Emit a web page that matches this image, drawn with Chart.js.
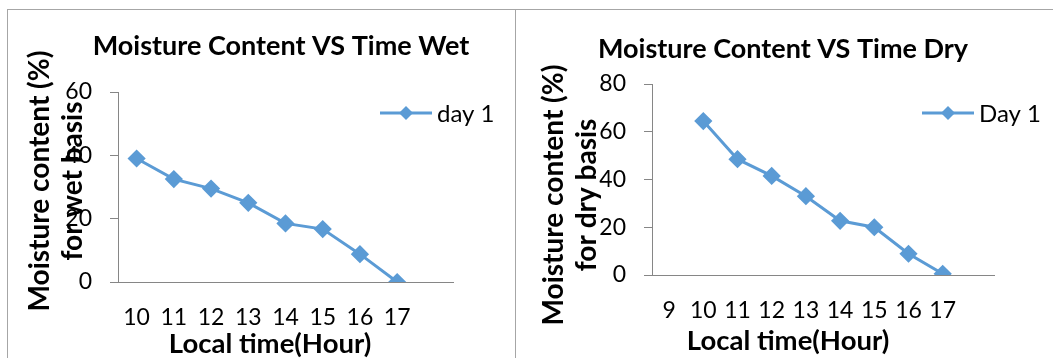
<!DOCTYPE html>
<html>
<head>
<meta charset="utf-8">
<script src="https://cdn.jsdelivr.net/npm/chart.js@4/dist/chart.umd.min.js"></script>
<style>
  body { margin: 0; background: #fff; width: 1053px; height: 358px; overflow: hidden; position: relative; }
  .panel { position: absolute; top: 9px; height: 360px; border-top: 1px solid #a6a6a6; }
  #wetPanel { left: 7px; width: 507px; border-left: 1px solid #a6a6a6; border-right: 1px solid #a6a6a6; }
  #dryPanel { left: 515px; width: 540px; }
  canvas { position: absolute; left: 0; top: 0; }
</style>
</head>
<body>
<div class="panel" id="wetPanel"><canvas id="wetChart" width="507" height="348"></canvas></div>
<div class="panel" id="dryPanel"><canvas id="dryChart" width="538" height="348"></canvas></div>
<script>
// Data
const wetHours = ["10", "11", "12", "13", "14", "15", "16", "17", ""];
const wetValues = [39, 32.5, 29.5, 25, 18.5, 16.7, 8.8, 0];
const wetTicks = [0, 20, 40, 60];

const dryHours = ["9", "10", "11", "12", "13", "14", "15", "16", "17", ""];
const dryValues = [null, 64.5, 48.5, 41.5, 33, 22.7, 20, 8.9, 0.5];
const dryTicks = [0, 20, 40, 60, 80];

const xTitle = "Local time(Hour)";

const blue = "#5b9bd5";
const axisGrey = "#868686";
const fontFamily = "Lato, 'Open Sans', sans-serif";

// Excel places the titles off-centre from the plot, so they are drawn here
const excelTitles = {
    id: "excelTitles",
    afterDraw(chart, args, o) {
        const ctx = chart.ctx;
        ctx.save();
        ctx.fillStyle = "#000";
        ctx.textAlign = "center";
        ctx.textBaseline = "middle";
        ctx.font = `bold 27px ${fontFamily}`;
        ctx.fillText(o.title, o.titleX, o.titleY);
        ctx.font = `bold 27.5px ${fontFamily}`;
        ctx.fillText(o.xTitle, o.xTitleX, o.xTitleY);
        ctx.font = `bold 28px ${fontFamily}`;
        o.yTitle.forEach((line, i) => {
            ctx.save();
            ctx.translate(o.yTitleX + i * 33, o.yTitleY);
            ctx.rotate(-Math.PI / 2);
            ctx.fillText(line, 0, 0);
            ctx.restore();
        });
        ctx.restore();
    }
};

// Excel style legend: a line with the marker on it, drawn over the plot's right edge
const lineLegend = {
    id: "lineLegend",
    afterDraw(chart, args, opts) {
        const { ctx, chartArea } = chart;
        const ds = chart.data.datasets[0];
        const x = chartArea.right + opts.dx;
        const y = chartArea.top + opts.dy;
        const len = 52, r = ds.pointRadius;
        ctx.save();
        ctx.strokeStyle = ds.borderColor;
        ctx.lineWidth = ds.borderWidth;
        ctx.beginPath();
        ctx.moveTo(x, y);
        ctx.lineTo(x + len, y);
        ctx.stroke();
        ctx.fillStyle = ds.pointBackgroundColor;
        ctx.beginPath();
        ctx.moveTo(x + len / 2, y - r);
        ctx.lineTo(x + len / 2 + r, y);
        ctx.lineTo(x + len / 2, y + r);
        ctx.lineTo(x + len / 2 - r, y);
        ctx.closePath();
        ctx.fill();
        ctx.fillStyle = "#000";
        ctx.font = `24px ${fontFamily}`;
        ctx.textBaseline = "middle";
        ctx.fillText(ds.label, x + len + 5, y + 1);
        ctx.restore();
    }
};

function makeChart(id, cfg) {
    return new Chart(document.getElementById(id), {
        type: "line",
        data: {
            labels: cfg.labels,
            datasets: [{
                label: cfg.seriesName,
                data: cfg.values,
                borderColor: blue,
                backgroundColor: blue,
                pointBackgroundColor: blue,
                pointBorderColor: blue,
                borderWidth: 3,
                pointStyle: "rectRot",
                pointRadius: 7,
                tension: 0,
                spanGaps: false
            }]
        },
        options: {
            responsive: false,
            animation: false,
            devicePixelRatio: 1,
            layout: { padding: { left: 0, right: cfg.padRight, top: cfg.padTop, bottom: 0 } },
            plugins: {
                legend: { display: false },
                tooltip: { enabled: false },
                title: { display: false },
                lineLegend: { dx: cfg.legendDx, dy: cfg.legendDy },
                excelTitles: cfg.titles
            },
            scales: {
                x: {
                    offset: true,
                    grid: { display: false, drawTicks: false },
                    border: { display: true, color: axisGrey, width: 1 },
                    ticks: { color: "#000", padding: 22, maxRotation: 0, autoSkip: false,
                             font: { family: fontFamily, size: 23 } },
                    afterFit: s => { s.height = cfg.xHeight; }
                },
                y: {
                    min: 0,
                    max: cfg.yTicks[cfg.yTicks.length - 1],
                    afterBuildTicks: s => { s.ticks = cfg.yTicks.map(v => ({ value: v })); },
                    grid: { drawOnChartArea: false, drawTicks: true, tickLength: 8, color: axisGrey },
                    border: { display: true, color: axisGrey, width: 1 },
                    ticks: { color: "#000", padding: 18, font: { family: fontFamily, size: 23 } },
                    afterFit: s => { s.width = cfg.yWidth; }
                }
            }
        },
        plugins: [lineLegend, excelTitles]
    });
}

// left chart: plot area x 110..445, y 82..272 inside its canvas
makeChart("wetChart", {
    labels: wetHours,
    values: wetValues,
    yTicks: wetTicks,
    seriesName: "day 1",
    padTop: 82, padRight: 62,
    yWidth: 110, xHeight: 76,
    legendDx: -73, legendDy: 21,
    titles: {
        title: "Moisture Content VS Time Wet", titleX: 273, titleY: 36,
        xTitle: xTitle, xTitleX: 262, xTitleY: 334,
        yTitle: ["Moisture content (%)", "for wet basis"], yTitleX: 32, yTitleY: 171
    }
});

// right chart: plot area x 137..479, y 74..265 inside its canvas
makeChart("dryChart", {
    labels: dryHours,
    values: dryValues,
    yTicks: dryTicks,
    seriesName: "Day 1",
    padTop: 74, padRight: 59,
    yWidth: 137, xHeight: 83,
    legendDx: -72, legendDy: 29,
    titles: {
        title: "Moisture Content VS Time Dry", titleX: 268, titleY: 39,
        xTitle: xTitle, xTitleX: 273, xTitleY: 331,
        yTitle: ["Moisture content (%)", "for dry basis"], yTitleX: 39, yTitleY: 185
    }
});
</script>
</body>
</html>
